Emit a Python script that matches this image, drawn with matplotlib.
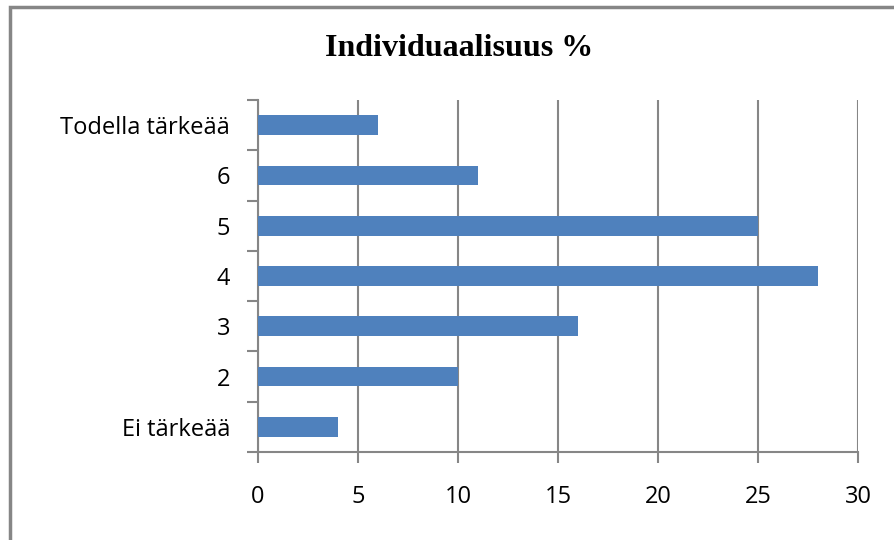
import matplotlib.pyplot as plt
import numpy as np
from matplotlib.patches import Rectangle

categories = ['Ei tärkeää', '2', '3', '4', '5', '6', 'Todella tärkeää']
values = [4, 10, 16, 28, 25, 11, 6]
xticks = [0, 5, 10, 15, 20, 25, 30]

grey = '#868686'
blue = '#4f81bd'

fig = plt.figure(figsize=(8.95, 5.4), dpi=100)
ax = fig.add_axes([258 / 895, 1 - 452 / 540, 600 / 895, 352 / 540])

y = np.arange(len(categories))
ax.barh(y, values, height=0.39, color=blue, zorder=3)

ax.set_xlim(0, 30)
ax.set_ylim(-0.5, len(categories) - 0.5)
ax.set_xticks(xticks)
ax.set_xticklabels([str(t) for t in xticks], fontsize=17, family='Open Sans')
ax.set_yticks(y)
ax.set_yticklabels(categories, fontsize=17, family='Open Sans')
ax.set_yticks(np.arange(-0.5, len(categories)), minor=True)

ax.tick_params(axis='y', which='major', length=0, pad=20)
ax.tick_params(axis='y', which='minor', length=8, color=grey, width=1.5)
ax.tick_params(axis='x', length=8, color=grey, width=1.5, pad=16)

ax.grid(axis='x', color=grey, linewidth=1.5, zorder=0)
for s in ['top', 'right']:
    ax.spines[s].set_visible(False)
for s in ['left', 'bottom']:
    ax.spines[s].set_color(grey)
    ax.spines[s].set_linewidth(1.5)

fig.text(459 / 895, 1 - 48 / 540, 'Individuaalisuus %', ha='center', va='center',
         fontsize=23, fontweight='bold', family='Liberation Serif')

# outer chart border (right/bottom edges fall outside the image)
fig.patches.append(Rectangle((10 / 895, -0.1), 1.2, 1.1 - 7.5 / 540, transform=fig.transFigure,
                             fill=False, edgecolor=grey, linewidth=2.5, clip_on=False))

fig.savefig('out.png', dpi=100)
